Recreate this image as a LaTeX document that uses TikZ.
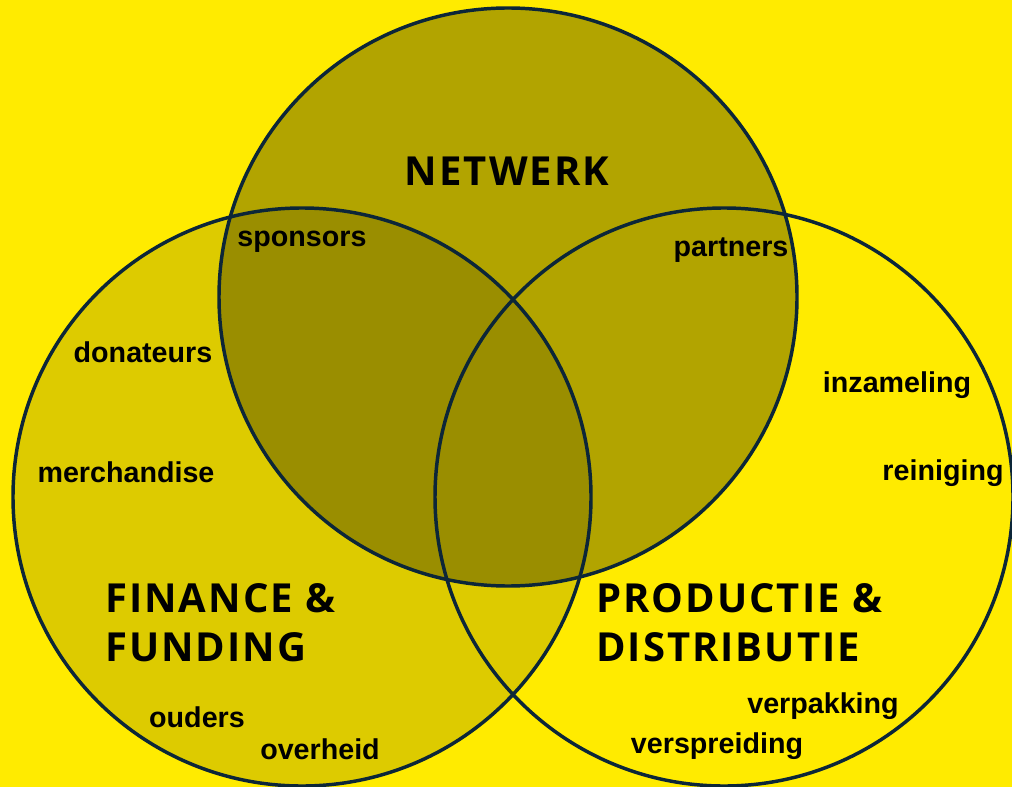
\documentclass[tikz,border=0pt]{standalone}
\usepackage{fontspec}
\newfontfamily\headfont{Open Sans}[LetterSpace=5]
\newfontfamily\itemfont{Liberation Sans}
\definecolor{bgyellow}{HTML}{FFEB00}
\definecolor{ringblue}{HTML}{0C2638}
\begin{document}
\begin{tikzpicture}[x=0.75pt, y=-0.75pt,
  ring/.style={draw=ringblue, line width=2.6pt},
  shade/.style={fill=black, fill opacity=#1, draw=none},
  head/.style={font=\headfont\bfseries\fontsize{30}{37}\selectfont, align=left, inner sep=0pt},
  item/.style={font=\itemfont\bfseries\fontsize{21.5}{24}\selectfont, inner sep=0pt, anchor=base}]

 \fill[bgyellow] (0,0) rectangle (1012,787);
 \useasboundingbox (0,0) rectangle (1012,787);

 % sets
 \coordinate (netwerk) at (508,297);
 \coordinate (finance) at (302,497);
 \coordinate (productie) at (724,497);
 \path[shade=0.30] (netwerk) circle[radius=289];
 \path[shade=0.133] (finance) circle[radius=289];
 \draw[ring] (netwerk) circle[radius=289];
 \draw[ring] (finance) circle[radius=289];
 \draw[ring] (productie) circle[radius=289];

 % headings
 \node (netwerkhead) [head, anchor=base] at (507,186) {NETWERK};
 \node (financehead) [head, anchor=north west] at (105,583) {FINANCE \&\\FUNDING};
 \node (productiehead) [head, anchor=north west] at (596,583) {PRODUCTIE \&\\DISTRIBUTIE};

 % items
 \node (sponsors) [item] at (302,247) {sponsors};
 \node (partners) [item] at (731,257) {partners};
 \node (donateurs) [item] at (143,363) {donateurs};
 \node (merchandise) [item] at (126,482) {merchandise};
 \node (inzameling) [item] at (897,392) {inzameling};
 \node (reiniging) [item] at (943,480) {reiniging};
 \node (ouders) [item] at (197,727) {ouders};
 \node (overheid) [item] at (320,759) {overheid};
 \node (verpakking) [item] at (823,713) {verpakking};
 \node (verspreiding) [item] at (717,753) {verspreiding};
\end{tikzpicture}
\end{document}
